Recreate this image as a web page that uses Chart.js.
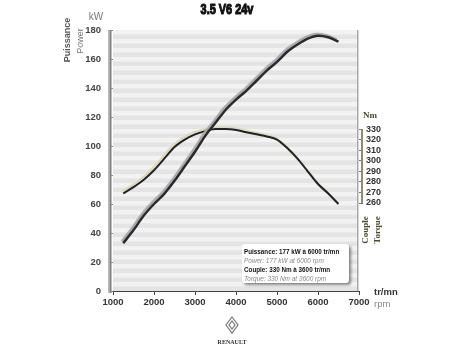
<!DOCTYPE html>
<html>
<head>
<meta charset="utf-8">
<script src="https://cdn.jsdelivr.net/npm/chart.js@4"></script>
<style>
  html, body { margin: 0; padding: 0; background: #fff; }
  canvas { display: block; }
</style>
</head>
<body>
<canvas id="chart" width="465" height="352"></canvas>
<script>
// engine speed (tr/mn) and curves
const rpm    = [1250, 1500, 1750, 2000, 2250, 2500, 2750, 3000, 3250, 3500, 3750, 4000, 4250, 4500, 4750, 5000, 5250, 5500, 5750, 6000, 6250, 6500];
const power  = [33, 42, 52, 60, 67, 76, 86, 96, 107, 116, 125, 132, 138, 145, 152, 158, 165, 170, 174, 176, 175, 172];
const torque = [269, 275, 282, 291, 302, 313, 320, 325, 328, 330, 330, 329, 327, 325, 323, 320, 312, 302, 290, 278, 269, 259];

const rpmTicks = [1000, 2000, 3000, 4000, 5000, 6000, 7000];
const kwTicks  = [0, 20, 40, 60, 80, 100, 120, 140, 160, 180];
const nmTicks  = [260, 270, 280, 290, 300, 310, 320, 330];

const tickFont = { family: 'Liberation Sans', size: 9.5, weight: 'bold' };

// narrow text: squeeze a normal face horizontally
function narrowText(ctx, text, x, y, sx) {
  ctx.save();
  ctx.translate(x, y);
  ctx.scale(sx, 1);
  ctx.fillText(text, 0, 0);
  ctx.restore();
}

const decor = {
  id: 'decor',
  beforeDraw(chart) {
    const { ctx, chartArea: a } = chart;
    ctx.save();
    ctx.fillStyle = '#fff';
    ctx.fillRect(0, 0, chart.width, chart.height);
    // striped plot background
    ctx.fillStyle = '#f2f2f2';
    ctx.fillRect(a.left, a.top, a.right - a.left - 1, a.bottom - a.top);
    ctx.fillStyle = '#e4e4e4';
    for (let y = a.top + 4.5; y < a.bottom; y += 9) {
      ctx.fillRect(a.left, y, a.right - a.left - 1, 4.5);
    }
    // right edge of the panel
    ctx.fillStyle = '#a8a8a8';
    ctx.fillRect(a.right - 2, a.top, 1.5, a.bottom - a.top);
    // thick left bar
    ctx.fillStyle = '#b8b8b8';
    ctx.fillRect(a.left - 5, a.top, 1.5, a.bottom - a.top + 2);
    ctx.fillStyle = '#7e7e7e';
    ctx.fillRect(a.left - 3.5, a.top, 2, a.bottom - a.top + 2);
    ctx.restore();
  },
  beforeDatasetDraw(chart, args) {
    const ds = chart.data.datasets[args.index];
    const ctx = chart.ctx;
    ctx.save();
    ctx.shadowColor = ds.glow;
    ctx.shadowOffsetX = -1.5;
    ctx.shadowOffsetY = -1.8;
    ctx.shadowBlur = 0.8;
  },
  afterDatasetDraw(chart) {
    chart.ctx.restore();
  },
  afterDraw(chart) {
    const { ctx, chartArea: a } = chart;
    const y1 = chart.scales.y1;
    ctx.save();

    // torque axis bracket
    ctx.strokeStyle = '#8c8c70';
    ctx.lineWidth = 2;
    ctx.beginPath();
    ctx.moveTo(a.right + 3, y1.getPixelForValue(nmTicks[nmTicks.length - 1]));
    ctx.lineTo(a.right + 3, y1.getPixelForValue(nmTicks[0]));
    ctx.stroke();

    // title
    ctx.fillStyle = '#111';
    ctx.textAlign = 'center';
    ctx.textBaseline = 'middle';
    ctx.font = '900 14px "Liberation Sans"';
    ctx.save();
    ctx.translate(227, 10);
    ctx.scale(0.78, 1);
    ctx.strokeStyle = '#111';
    ctx.lineWidth = 1.1;
    ctx.fillText('3.5 V6 24v', 0, 0);
    ctx.strokeText('3.5 V6 24v', 0, 0);
    ctx.restore();

    // left axis titles
    ctx.fillStyle = '#777';
    ctx.font = '10px "Liberation Sans"';
    ctx.fillText('kW', 96, 17);
    ctx.save();
    ctx.translate(68, 40);
    ctx.rotate(-Math.PI / 2);
    ctx.fillStyle = '#555';
    ctx.font = 'bold 9px "Liberation Sans"';
    ctx.fillText('Puissance', 0, 0);
    ctx.restore();
    ctx.save();
    ctx.translate(81, 41);
    ctx.rotate(-Math.PI / 2);
    ctx.fillStyle = '#777';
    ctx.font = '9px "Liberation Sans"';
    ctx.fillText('Power', 0, 0);
    ctx.restore();

    // x axis titles
    ctx.textAlign = 'left';
    ctx.fillStyle = '#333';
    ctx.font = 'bold 9.5px "Liberation Sans"';
    ctx.fillText('tr/mn', 374, 292);
    ctx.fillStyle = '#888';
    ctx.font = '9.5px "Liberation Sans"';
    ctx.fillText('rpm', 374, 304);

    // right axis titles
    ctx.textAlign = 'center';
    ctx.fillStyle = '#4a4a30';
    ctx.font = 'bold 9px "Liberation Serif"';
    ctx.fillText('Nm', 370, 116);
    ctx.save();
    ctx.translate(366, 230);
    ctx.rotate(-Math.PI / 2);
    ctx.fillText('Couple', 0, 0);
    ctx.restore();
    ctx.save();
    ctx.translate(378, 230);
    ctx.rotate(-Math.PI / 2);
    ctx.fillText('Torque', 0, 0);
    ctx.restore();

    // note box
    ctx.save();
    ctx.shadowColor = 'rgba(0,0,0,0.45)';
    ctx.shadowBlur = 3;
    ctx.shadowOffsetX = 2;
    ctx.shadowOffsetY = 2;
    ctx.fillStyle = '#fff';
    ctx.beginPath();
    ctx.roundRect(242, 244, 107, 39, 3);
    ctx.fill();
    ctx.restore();
    ctx.textAlign = 'left';
    ctx.fillStyle = '#111';
    ctx.font = 'bold 7px "Liberation Sans"';
    narrowText(ctx, 'Puissance: 177 kW à 6000 tr/mn', 244, 252, 0.9);
    narrowText(ctx, 'Couple: 330 Nm à 3600 tr/mn', 244, 270, 0.9);
    ctx.fillStyle = '#888';
    ctx.font = 'italic 7px "Liberation Sans"';
    narrowText(ctx, 'Power: 177 kW at 6000 rpm', 244, 261, 0.92);
    narrowText(ctx, 'Torque: 330 Nm at 3600 rpm', 244, 279, 0.92);

    // Renault badge
    ctx.strokeStyle = '#777';
    ctx.lineWidth = 1.2;
    const cx = 232, cy = 325;
    ctx.beginPath();
    ctx.moveTo(cx, cy - 8); ctx.lineTo(cx + 6, cy); ctx.lineTo(cx, cy + 8); ctx.lineTo(cx - 6, cy); ctx.closePath();
    ctx.stroke();
    ctx.beginPath();
    ctx.moveTo(cx, cy - 4); ctx.lineTo(cx + 3, cy); ctx.lineTo(cx, cy + 4); ctx.lineTo(cx - 3, cy); ctx.closePath();
    ctx.stroke();
    ctx.textAlign = 'center';
    ctx.fillStyle = '#333';
    ctx.font = 'bold 6px "Liberation Serif"';
    ctx.fillText('RENAULT', cx, 342);

    ctx.restore();
  }
};

new Chart(document.getElementById('chart'), {
  type: 'line',
  data: {
    datasets: [{
      label: 'Puissance',
      data: rpm.map((r, i) => ({ x: r, y: power[i] })),
      yAxisID: 'y',
      borderColor: '#2a2a2a',
      borderWidth: 2.5,
      glow: '#a8a8ac',
      cubicInterpolationMode: 'monotone',
      pointRadius: 0
    }, {
      label: 'Couple',
      data: rpm.map((r, i) => ({ x: r, y: torque[i] })),
      yAxisID: 'y1',
      borderColor: '#222',
      borderWidth: 2,
      glow: '#d8d8bc',
      cubicInterpolationMode: 'monotone',
      pointRadius: 0
    }]
  },
  options: {
    responsive: false,
    animation: false,
    layout: { padding: { top: 30, left: 0, right: 0, bottom: 0 } },
    plugins: { legend: { display: false }, tooltip: { enabled: false } },
    scales: {
      x: {
        type: 'linear',
        min: 1000,
        max: 7000,
        afterBuildTicks: s => { s.ticks = rpmTicks.map(v => ({ value: v })); },
        afterFit: s => { s.height = 61; },
        grid: { drawOnChartArea: false, tickLength: 4, color: '#444' },
        border: { color: '#444', width: 1 },
        ticks: { padding: 2, color: '#333', font: tickFont, callback: v => String(v) }
      },
      y: {
        position: 'left',
        min: 0,
        max: 180,
        afterBuildTicks: s => { s.ticks = kwTicks.map(v => ({ value: v })); },
        afterFit: s => { s.width = 113; },
        grid: { drawOnChartArea: false, tickLength: 3, color: '#888' },
        border: { display: false },
        ticks: { padding: 9, color: '#444', font: tickFont }
      },
      y1: {
        position: 'right',
        min: 176.75,
        max: 423.7,
        afterBuildTicks: s => { s.ticks = nmTicks.map(v => ({ value: v })); },
        afterFit: s => { s.width = 106; },
        grid: { drawOnChartArea: false, tickLength: 4, color: '#777' },
        border: { display: false },
        ticks: { padding: 3, color: '#333', font: { family: 'Liberation Sans', size: 9, weight: 'bold' } }
      }
    }
  },
  plugins: [decor]
});
</script>
</body>
</html>
